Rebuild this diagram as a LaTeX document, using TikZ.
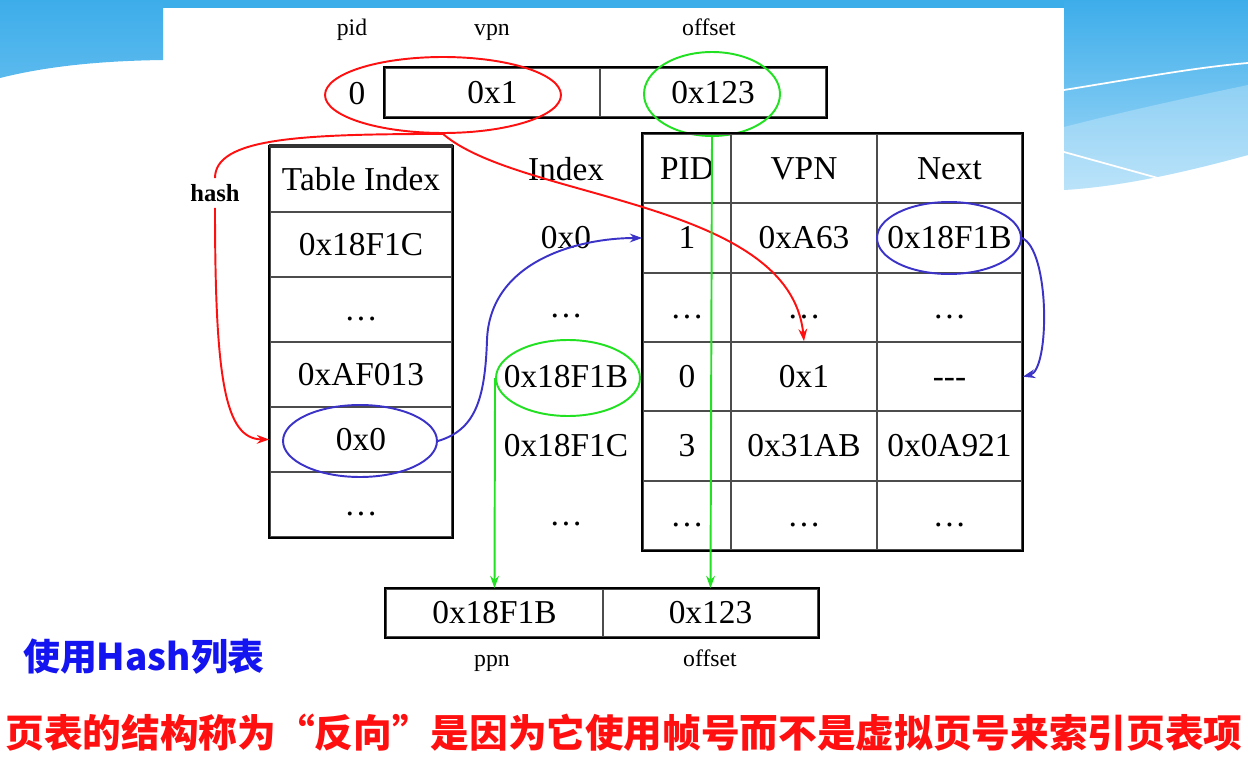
\documentclass[tikz,border=0pt]{standalone}
\usepackage{fontspec}
\setmainfont{Liberation Serif}
\newfontfamily\cjk{Noto Sans CJK SC}
\usetikzlibrary{shapes.geometric,arrows.meta}
\definecolor{skyblue}{HTML}{3DADEA}
\definecolor{skylight}{HTML}{A4DAF8}
\definecolor{hred}{HTML}{FF1010}
\definecolor{hgreen}{HTML}{22E022}
\definecolor{hblue}{HTML}{3B32C8}
\definecolor{capblue}{HTML}{1414F0}
\begin{document}
\begin{tikzpicture}[x=0.02cm,y=-0.02cm,
    val/.style={font=\fontsize{19}{22}\selectfont,text height=12.5pt,text depth=0pt},
    lbl/.style={font=\fontsize{13.5}{16}\selectfont,text height=9.5pt,text depth=3pt},
    cell/.style={val,draw=black!70,line width=1pt,inner sep=0pt},
    tcell/.style={cell,minimum width=3.64cm,minimum height=1.3cm},
    pcol/.style={cell,minimum width=1.76cm,minimum height=1.3866cm},
    vcol/.style={cell,minimum width=2.92cm,minimum height=1.3866cm},
    ncol/.style={cell,minimum width=2.9cm,minimum height=1.3866cm},
    ring/.style={ellipse,draw=#1,line width=1.1pt,inner sep=0pt},
    wire/.style={draw=#1,line width=1.1pt},
    link/.style={wire=#1,-{Stealth[length=7pt,width=5pt]}}]
  \useasboundingbox (0,0) rectangle (1248,767);
  % background
  \fill[white] (0,0) rectangle (1248,767);
  \fill[skyblue] (0,0) rectangle (1248,8);
  \shade[top color=skyblue,bottom color=skyblue!85!white]
    (0,0) -- (163,0) -- (163,60) .. controls (90,61) and (40,68) .. (0,78) -- cycle;
  \shade[top color=skyblue,bottom color=skylight]
    (1064,0) -- (1248,0) -- (1248,155) .. controls (1200,168) and (1130,186) .. (1064,190) -- cycle;
  \fill[white,opacity=0.25]
    (1064,127) .. controls (1130,110) and (1200,95) .. (1248,85) -- (1248,155)
    .. controls (1200,168) and (1130,186) .. (1064,190) -- cycle;
  \draw[white,line width=1pt] (1064,90) .. controls (1150,76) and (1200,67) .. (1248,63);
  \draw[white,line width=1pt] (1064,152) -- (1165,180);

  % virtual address
  \draw
    (352,30) node[lbl] (pidlbl){pid}
    (492,30) node[lbl] (vpnlbl){vpn}
    (709,30) node[lbl] (offlbl){offset};
  \node[cell,minimum width=4.3cm,minimum height=0.98cm] (va1) at (492.5,92.5) {0x1};
  \node[cell,minimum width=4.52cm,minimum height=0.98cm] (va2) at (713,92.5) {0x123};
  \draw[line width=1.3pt] (va1.north west) rectangle (va2.south east);
  \node[val] (va0) at (357,94) {0};
  \node[ring=hred,minimum width=4.72cm,minimum height=1.52cm] (vkey) at (443,95) {};
  \node[ring=hgreen,minimum width=2.72cm,minimum height=1.68cm] (voff) at (712,94) {};

  % hash table
  \node[tcell] (ti0) at (361,179.5) {Table Index};
  \node[tcell] (ti1) at (361,244.5) {0x18F1C};
  \node[tcell] (ti2) at (361,309.5) {\dots};
  \node[tcell] (ti3) at (361,374.5) {0xAF013};
  \node[tcell] (ti4) at (361,439.5) {0x0};
  \node[tcell] (ti5) at (361,504.5) {\dots};
  \draw[line width=1.3pt] (ti0.north west) rectangle (ti5.south east);
  \draw[line width=2.4pt,black!80] (ti0.north west) -- (ti0.north east);
  \node[ring=hblue,minimum width=3.08cm,minimum height=1.44cm] (zero) at (360,441) {};

  % index column
  \draw
    (566,170) node[val] (ix0){Index}
    (566,238) node[val] (ix1){0x0}
    (566,307) node[val] (ix2){\dots}
    (566,377) node[val] (ix3){0x18F1B}
    (566,446) node[val] (ix4){0x18F1C}
    (566,515) node[val] (ix5){\dots};
  \node[ring=hgreen,minimum width=2.88cm,minimum height=1.52cm] (hit) at (568,378) {};

  % inverted page table
  \node[pcol] (r00) at (687,168.7) {PID};
  \node[vcol] (r01) at (804,168.7) {VPN};
  \node[ncol] (r02) at (949.5,168.7) {Next};
  \node[pcol] (r10) at (687,238) {1};
  \node[vcol] (r11) at (804,238) {0xA63};
  \node[ncol] (r12) at (949.5,238) {0x18F1B};
  \node[pcol] (r20) at (687,307.3) {\dots};
  \node[vcol] (r21) at (804,307.3) {\dots};
  \node[ncol] (r22) at (949.5,307.3) {\dots};
  \node[pcol] (r30) at (687,376.7) {0};
  \node[vcol] (r31) at (804,376.7) {0x1};
  \node[ncol] (r32) at (949.5,376.7) {-{}-{}-};
  \node[pcol] (r40) at (687,446) {3};
  \node[vcol] (r41) at (804,446) {0x31AB};
  \node[ncol] (r42) at (949.5,446) {0x0A921};
  \node[pcol] (r50) at (687,515.3) {\dots};
  \node[vcol] (r51) at (804,515.3) {\dots};
  \node[ncol] (r52) at (949.5,515.3) {\dots};
  \draw[line width=1.3pt] (r00.north west) rectangle (r52.south east);
  \node[ring=hblue,minimum width=2.88cm,minimum height=1.44cm] (nxt) at (949,238) {};

  % physical address
  \node[cell,minimum width=4.34cm,minimum height=0.96cm] (pa1) at (494.5,613) {0x18F1B};
  \node[cell,minimum width=4.3cm,minimum height=0.96cm] (pa2) at (710.5,613) {0x123};
  \draw[line width=1.3pt] (pa1.north west) rectangle (pa2.south east);
  \draw
    (492,661) node[lbl] (ppnlbl){ppn}
    (710,661) node[lbl] (poflbl){offset};

  % connectors
  \node[font=\fontsize{14}{16}\selectfont\bfseries] (hash) at (215,193) {hash};
  \draw[wire=hred] (vkey.south) .. controls (300,134) and (215,138) .. (hash.north);
  \draw[link=hred] (hash.south) .. controls (215,380) and (225,439) .. (ti4.west);
  \draw[link=hred] (vkey.south) .. controls (520,200) and (790,200) .. (r31.north);
  \draw[link=hblue] (zero.east) .. controls (475,430) and (485,400) .. (487,340)
    .. controls (490,260) and (580,238) .. (r10.west);
  \draw[link=hblue] (nxt.east) .. controls (1050,250) and (1050,370) .. (r32.east);
  \draw[link=hgreen] (voff.south) -- (pa2.north);
  \draw[link=hgreen] (hit.west) -- (pa1.north);

  % captions
  \node[font=\cjk\bfseries\fontsize{21}{24}\selectfont,text=capblue] (title) at (144,657) {使用Hash列表};
  \node[font=\cjk\bfseries\fontsize{22}{26}\selectfont,text=hred] (note) at (624,733)
    {页表的结构称为“反向”是因为它使用帧号而不是虚拟页号来索引页表项};
\end{tikzpicture}
\end{document}
